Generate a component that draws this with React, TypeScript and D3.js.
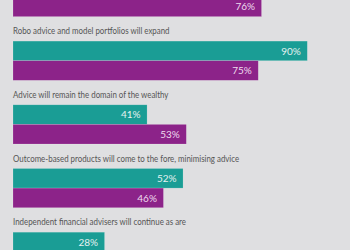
import React from "react";
import * as d3 from "d3";

const categories = [
  "",
  "Robo advice and model portfolios will expand",
  "Advice will remain the domain of the wealthy",
  "Outcome-based products will come to the fore, minimising advice",
  "Independent financial advisers will continue as are",
];
const tealValues: (number | null)[] = [null, 90, 41, 52, 28];
const purpleValues: (number | null)[] = [76, 75, 53, 46, null];

const W = 350;
const H = 250;
const TEAL = "#1a9d95";
const PURPLE = "#8c2389";
const BG = "#dfdfe1";

export default function App() {
  const x = d3.scaleLinear().domain([0, 100]).range([13, 340]);
  const y = d3.scaleLinear().domain([0, 4]).range([-22.6, 232.2]);
  const barH = 19.6;
  const labelFont = "Lato, 'Noto Sans', sans-serif";

  return (
    <svg width={W} height={H} style={{ position: "absolute", left: 0, top: 0 }}>
      <rect x={0} y={0} width={W} height={H} fill={BG} />
      {categories.map((c, i) => {
        const top = y(i);
        const t = tealValues[i];
        const p = purpleValues[i];
        return (
          <g key={i}>
            {c && (
              <text
                transform={`translate(${x(0)},${top - 7}) scale(0.79,1)`}
                fontFamily={labelFont}
                fontSize={10}
                fill="#555"
              >
                {c}
              </text>
            )}
            {t != null && (
              <g>
                <rect x={x(0)} y={top} width={x(t) - x(0)} height={barH} fill={TEAL} stroke="rgba(255,255,255,0.25)" strokeWidth={0.6} />
                <text x={x(t) - 6.5} y={top + barH / 2 + 3.6} textAnchor="end" fontFamily={labelFont} fontSize={10} fill="#e4f1f0">
                  {t}%
                </text>
              </g>
            )}
            {p != null && (
              <g>
                <rect x={x(0)} y={top + barH} width={x(p) - x(0)} height={barH} fill={PURPLE} stroke="rgba(255,255,255,0.25)" strokeWidth={0.6} />
                <text x={x(p) - 6.5} y={top + barH * 1.5 + 3.6} textAnchor="end" fontFamily={labelFont} fontSize={10} fill="#eedcee">
                  {p}%
                </text>
              </g>
            )}
          </g>
        );
      })}
    </svg>
  );
}
